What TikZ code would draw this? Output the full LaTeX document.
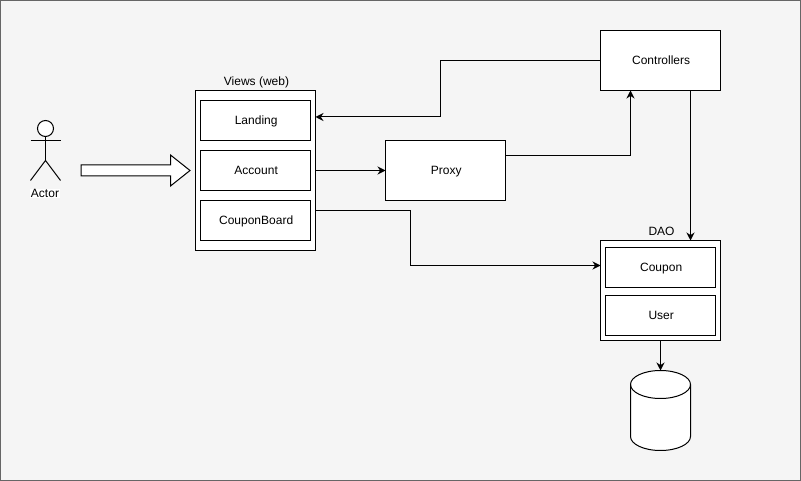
\documentclass[tikz,border=0pt]{standalone}
\usepackage{fontspec}
\setmainfont{Liberation Sans}
\usepackage{xcolor}
\usepackage{tikz}
\usetikzlibrary{arrows.meta,positioning,shapes.arrows,calc}
\definecolor{canvas}{RGB}{245,245,245}
\definecolor{framegray}{RGB}{102,102,102}
\begin{document}
\begin{tikzpicture}[x=.75pt,y=-.75pt,font=\fontsize{9pt}{11pt}\selectfont,line width=.75pt,
 box/.style={draw=black, fill=white, align=center, inner sep=0pt, outer sep=0pt, minimum width=90pt, minimum height=45pt, text height=6.5pt, text depth=0pt, execute at begin node=\hspace{1pt}},
 inner/.style={box, minimum width=82.5pt, minimum height=30pt},
 title/.style={inner sep=0pt, text height=6.5pt, text depth=1.8pt, execute at begin node=\hspace{1.5pt}},
 arr/.style={-{Stealth[length=6pt,width=6pt]}, line width=.75pt, color=black}]
\useasboundingbox (0,0) rectangle (801,481);
\draw[framegray, fill=canvas] (.5,.5) rectangle (800.5,480.5);
\node[box, minimum height=120pt] (views) at (255.5,170.5) {};
\node[inner] (account) at (views.center) {Account};
\node[inner, above=7.5pt of account] (landing) {Landing};
\node[inner, below=7.5pt of account] (couponboard) {CouponBoard};
\node[title, above=1.5pt of views] (viewstitle) {Views (web)};
\node[box, right=52.5pt of views] (proxy) {Proxy};
\node[box] (controllers) at (660.5,60.5) {Controllers};
\node[box, minimum height=75pt] (dao) at (660.5,290.5) {};
\node[inner] (coupon) at (660.5,267.5) {Coupon};
\node[inner, below=6pt of coupon] (user) {User};
\node[title, above=1.5pt of dao] (daotitle) {DAO};
\node[minimum width=45pt, minimum height=60pt, inner sep=0pt, outer sep=0pt] (db) at (660.5,410.5) {};
\draw[fill=white] ($(db.north west)+(0,14)$) arc (180:0:22.5pt and 10.5pt) -- ($(db.south east)+(0,-14)$) arc (360:180:22.5pt and 10.5pt) -- cycle;
\draw ($(db.north west)+(0,14)$) arc (180:360:22.5pt and 10.5pt);
\node[draw=black, fill=white, circle, minimum size=12pt, inner sep=0pt, outer sep=0pt] (head) at (45.5,128.5) {};
\coordinate (hip) at (45.5,160.5);
\draw (head.south)--(hip);
\draw (30.5,140.5)--(60.5,140.5);
\draw (30.5,180.5)--(hip)--(60.5,180.5);
\node[fill=white, inner sep=.5pt] (actor) at (45,193.5) {Actor};
\node[draw=black, fill=white, single arrow, single arrow head extend=7.5pt, single arrow tip angle=77, minimum height=81.75pt, inner xsep=0pt, inner ysep=3.75pt, outer sep=0pt, anchor=tail] (enter) at (81,170.5) {};
\coordinate (viewsin) at ($(views.east)+(0,-53.5)$);
\coordinate (boardout) at ($(views.east)+(0,40)$);
\coordinate (proxyout) at ($(proxy.east)+(0,-15)$);
\coordinate (ctrlin) at ($(controllers.south)+(-30,0)$);
\coordinate (ctrlout) at ($(controllers.south)+(30,0)$);
\coordinate (daotop) at ($(dao.north)+(30,0)$);
\coordinate (daoin) at ($(dao.west)+(0,-25)$);
\draw[arr] (controllers.west)-- ++(-160,0) |- (viewsin);
\draw[arr] (views.east)--(proxy.west);
\draw[arr] (proxyout)-|(ctrlin);
\draw[arr] (ctrlout)--(daotop);
\draw[arr] (boardout)-- ++(95,0) |- (daoin);
\draw[arr] (dao.south)--(db.north);
\end{tikzpicture}
\end{document}
